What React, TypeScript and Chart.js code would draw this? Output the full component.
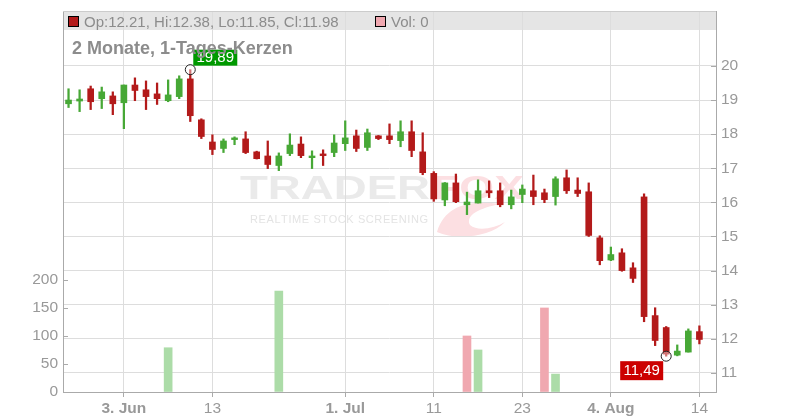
import React, { useEffect, useRef } from 'react';
import { Chart, registerables } from 'chart.js';

Chart.register(...registerables);

const dates = [
  '2024-05-27', '2024-05-28', '2024-05-29', '2024-05-30', '2024-05-31',
  '2024-06-03', '2024-06-04', '2024-06-05', '2024-06-06', '2024-06-07',
  '2024-06-10', '2024-06-11', '2024-06-12', '2024-06-13', '2024-06-14',
  '2024-06-17', '2024-06-18', '2024-06-19', '2024-06-20', '2024-06-21',
  '2024-06-24', '2024-06-25', '2024-06-26', '2024-06-27', '2024-06-28',
  '2024-07-01', '2024-07-02', '2024-07-03', '2024-07-04', '2024-07-05',
  '2024-07-08', '2024-07-09', '2024-07-10', '2024-07-11', '2024-07-12',
  '2024-07-15', '2024-07-16', '2024-07-17', '2024-07-18', '2024-07-19',
  '2024-07-22', '2024-07-23', '2024-07-24', '2024-07-25', '2024-07-26',
  '2024-07-29', '2024-07-30', '2024-07-31', '2024-08-01', '2024-08-02',
  '2024-08-05', '2024-08-06', '2024-08-07', '2024-08-08', '2024-08-09',
  '2024-08-12', '2024-08-13', '2024-08-14',
];

const opens = [
  18.89, 18.97, 19.33, 19.04, 19.12, 18.92, 19.44, 19.30, 19.18, 18.98,
  19.10, 19.62, 18.42, 17.77, 17.58, 17.84, 17.86, 17.48, 17.36, 17.08,
  17.43, 17.71, 17.31, 17.42, 17.46, 17.72, 17.95, 17.61, 17.95, 17.95,
  17.81, 18.07, 17.48, 16.85, 16.07, 16.57, 15.93, 15.98, 16.34, 16.34,
  15.93, 16.23, 16.34, 16.28, 16.17, 16.72, 16.36, 16.31, 14.96, 14.31,
  14.52, 14.08, 16.16, 12.68, 12.33, 11.52, 11.61, 12.21,
];
const highs = [
  19.33, 19.30, 19.41, 19.38, 19.24, 19.44, 19.65, 19.56, 19.50, 19.59,
  19.71, 19.89, 18.45, 17.98, 17.86, 17.92, 18.07, 17.50, 17.80, 17.45,
  18.01, 17.92, 17.51, 17.54, 17.98, 18.39, 18.12, 18.15, 17.96, 18.30,
  18.39, 18.39, 18.04, 16.90, 16.58, 16.83, 16.30, 16.66, 16.63, 16.57,
  16.36, 16.51, 16.80, 16.39, 16.75, 16.95, 16.72, 16.57, 15.02, 14.69,
  14.64, 14.23, 16.25, 12.91, 12.36, 11.82, 12.29, 12.38,
];
const lows = [
  18.78, 18.66, 18.72, 18.75, 18.57, 18.16, 18.98, 18.72, 18.87, 18.95,
  19.04, 18.37, 17.87, 17.40, 17.46, 17.69, 17.43, 17.27, 16.99, 16.93,
  17.37, 17.31, 16.99, 17.08, 17.34, 17.52, 17.49, 17.52, 17.84, 17.72,
  17.63, 17.34, 16.81, 16.03, 15.90, 15.99, 15.64, 15.98, 16.14, 15.87,
  15.81, 15.99, 15.93, 15.99, 15.92, 16.26, 16.17, 15.00, 14.17, 14.29,
  13.98, 13.65, 12.50, 11.80, 11.49, 11.50, 11.61, 11.85,
];
const closes = [
  19.00, 19.03, 18.95, 19.24, 18.89, 19.44, 19.28, 19.10, 19.04, 19.15,
  19.62, 18.54, 17.93, 17.55, 17.80, 17.89, 17.46, 17.28, 17.11, 17.36,
  17.68, 17.37, 17.36, 17.37, 17.74, 17.89, 17.58, 18.04, 17.87, 17.84,
  18.07, 17.52, 16.87, 16.10, 16.57, 16.02, 16.01, 16.34, 16.28, 15.93,
  16.16, 16.39, 16.17, 16.08, 16.69, 16.34, 16.26, 15.03, 14.29, 14.47,
  14.00, 13.77, 12.65, 11.95, 11.55, 11.64, 12.23, 11.98,
];
const volumes = [
  0, 0, 0, 0, 0, 0, 0, 0, 0, 79,
  0, 0, 0, 0, 0, 0, 0, 0, 0, 180,
  0, 0, 0, 0, 0, 0, 0, 0, 0, 0,
  0, 0, 0, 0, 0, 0, 100, 75, 0, 0,
  0, 0, 0, 150, 32, 0, 0, 0, 0, 0,
  0, 0, 0, 0, 0, 0, 0, 0,
];

const tickIdx = [5, 13, 25, 33, 41, 49, 57];
const tickText = ['3. Jun', '13', '1. Jul', '11', '23', '4. Aug', '14'];
const priceTicks = [11, 12, 13, 14, 15, 16, 17, 18, 19, 20];
const volTicks = [0, 50, 100, 150, 200];
const title = '2 Monate, 1-Tages-Kerzen';

const FONT = '"Liberation Sans", Arial, Helvetica, sans-serif';
const UP = '#47a836';
const DOWN = '#b31a1a';
const VOL_UP = '#acdca8';
const VOL_DOWN = '#f0a8b0';

const deFmt = (v: number) => v.toFixed(2).replace('.', ',');

const overlay = {
  id: 'overlay',
  beforeDraw(chart: any) {
    const { ctx, chartArea: a } = chart;
    ctx.save();
    // legend band
    ctx.fillStyle = '#e5e5e5';
    ctx.fillRect(a.left, a.top, a.right - a.left, 19);
    // watermark
    ctx.font = `bold 34px ${FONT}`;
    const w1 = ctx.measureText('TRADER').width;
    ctx.save();
    ctx.translate(240, 199);
    ctx.scale(190 / w1, 1);
    ctx.fillStyle = '#eaeaea';
    ctx.fillText('TRADER', 0, 0);
    ctx.restore();
    const w2 = ctx.measureText('FOX').width;
    ctx.save();
    ctx.translate(432, 199);
    ctx.scale(92 / w2, 1);
    ctx.fillStyle = '#fcdfe2';
    ctx.fillText('FOX', 0, 0);
    ctx.restore();
    // tail swoosh
    ctx.fillStyle = '#fcdfe2';
    ctx.beginPath();
    ctx.moveTo(437, 232);
    ctx.bezierCurveTo(445, 205, 470, 200, 500, 204);
    ctx.bezierCurveTo(480, 208, 465, 215, 470, 225);
    ctx.bezierCurveTo(478, 232, 495, 228, 505, 222);
    ctx.bezierCurveTo(490, 238, 455, 240, 437, 232);
    ctx.fill();
    const sub = 'REALTIME STOCK SCREENING';
    ctx.font = `11px ${FONT}`;
    ctx.fillStyle = '#e4e4e4';
    const ws = ctx.measureText(sub).width;
    const gap = (177 - ws) / (sub.length - 1);
    let sx = 250;
    for (const ch of sub) {
      ctx.fillText(ch, sx, 223);
      sx += ctx.measureText(ch).width + gap;
    }
    ctx.restore();
  },
  afterDraw(chart: any) {
    const { ctx, chartArea: a, scales } = chart;
    const x = scales.x, y = scales.y, yv = scales.yVol;
    ctx.save();
    // top border
    ctx.strokeStyle = '#cccccc';
    ctx.lineWidth = 1;
    ctx.beginPath();
    ctx.moveTo(a.left, a.top + 0.5);
    ctx.lineTo(a.right, a.top + 0.5);
    ctx.stroke();
    // inward tick marks
    ctx.strokeStyle = '#aaaaaa';
    ctx.beginPath();
    for (const t of priceTicks) {
      const py = Math.round(y.getPixelForValue(t)) + 0.5;
      ctx.moveTo(a.right - 5, py);
      ctx.lineTo(a.right, py);
    }
    for (const t of volTicks) {
      const py = Math.round(yv.getPixelForValue(t)) + 0.5;
      ctx.moveTo(a.left, py);
      ctx.lineTo(a.left + 5, py);
    }
    ctx.stroke();

    // high / low markers
    let hi = 0, lo = 0;
    highs.forEach((v, i) => { if (v > highs[hi]) hi = i; });
    lows.forEach((v, i) => { if (v < lows[lo]) lo = i; });
    const hx = x.getPixelForValue(hi), hy = y.getPixelForValue(highs[hi]);
    const lx = x.getPixelForValue(lo), ly = y.getPixelForValue(lows[lo]);
    ctx.font = `15px ${FONT}`;
    ctx.textBaseline = 'middle';
    ctx.textAlign = 'center';
    ctx.fillStyle = '#009900';
    ctx.fillRect(hx + 3, hy - 20, 44, 16);
    ctx.fillStyle = '#ffffff';
    ctx.fillText(deFmt(highs[hi]), hx + 25, hy - 11.5);
    ctx.fillStyle = '#cc0000';
    ctx.fillRect(lx - 46, ly + 5, 43, 19);
    ctx.fillStyle = '#ffffff';
    ctx.fillText(deFmt(lows[lo]), lx - 24.5, ly + 15);
    ctx.strokeStyle = '#222';
    ctx.lineWidth = 1;
    for (const [cx, cy] of [[hx, hy], [lx, ly]]) {
      ctx.beginPath();
      ctx.arc(cx, cy, 5, 0, Math.PI * 2);
      ctx.fillStyle = 'rgba(255,255,255,0.4)';
      ctx.fill();
      ctx.stroke();
    }

    // legend content
    const n = closes.length - 1;
    ctx.textAlign = 'left';
    ctx.textBaseline = 'alphabetic';
    ctx.fillStyle = DOWN;
    ctx.fillRect(68.5, 16.5, 10, 10);
    ctx.strokeStyle = '#000';
    ctx.strokeRect(68.5, 16.5, 10, 10);
    ctx.fillStyle = '#8c8c8c';
    ctx.font = `15px ${FONT}`;
    ctx.fillText(
      `Op:${opens[n].toFixed(2)}, Hi:${highs[n].toFixed(2)}, Lo:${lows[n].toFixed(2)}, Cl:${closes[n].toFixed(2)}`,
      84, 27
    );
    ctx.fillStyle = VOL_DOWN;
    ctx.fillRect(375.5, 16.5, 10, 10);
    ctx.strokeRect(375.5, 16.5, 10, 10);
    ctx.fillStyle = '#8c8c8c';
    ctx.fillText(`Vol: ${volumes[n]}`, 391, 27);

    // title
    ctx.font = `bold 18px ${FONT}`;
    ctx.fillStyle = '#8c8c8c';
    ctx.fillText(title, 72, 54);
    ctx.restore();
  },
};

const noPad = (s: any) => {
  s.paddingTop = 0;
  s.paddingBottom = 0;
  s.paddingLeft = 0;
  s.paddingRight = 0;
};

export default function App() {
  const ref = useRef<HTMLCanvasElement>(null);
  useEffect(() => {
    document.body.style.margin = '0';
    const isUp = (i: number) => closes[i] >= opens[i];
    const volUp = (i: number) => i === 0 || closes[i] >= closes[i - 1];
    const chart = new Chart(ref.current as HTMLCanvasElement, {
      type: 'bar',
      data: {
        datasets: [
          {
            label: 'Kerze',
            data: opens.map((o, i) => ({ x: i, y: [o, closes[i]] })) as any,
            backgroundColor: opens.map((_, i) => (isUp(i) ? UP : DOWN)),
            barThickness: 6,
            minBarLength: 1.5,
            grouped: false,
            order: 1,
            xAxisID: 'x',
            yAxisID: 'y',
          },
          {
            label: 'Docht',
            data: lows.map((l, i) => ({ x: i, y: [l, highs[i]] })) as any,
            backgroundColor: opens.map((_, i) => (isUp(i) ? UP : DOWN)),
            barThickness: 1.6,
            grouped: false,
            order: 2,
            xAxisID: 'x',
            yAxisID: 'y',
          },
          {
            label: 'Vol',
            data: volumes.map((v, i) => ({ x: i, y: v > 0 ? v : null })) as any,
            backgroundColor: volumes.map((_, i) => (volUp(i) ? VOL_UP : VOL_DOWN)),
            barThickness: 8,
            grouped: false,
            skipNull: true,
            order: 3,
            xAxisID: 'x',
            yAxisID: 'yVol',
          },
        ],
      },
      options: {
        responsive: false,
        animation: false,
        events: [],
        layout: { padding: { top: 11, left: 0, right: 0, bottom: 0 } },
        plugins: { legend: { display: false }, tooltip: { enabled: false } },
        scales: {
          x: {
            type: 'linear',
            position: 'bottom',
            min: -0.5,
            max: 58.5,
            offset: false,
            afterBuildTicks: (s: any) => { s.ticks = tickIdx.map((v) => ({ value: v })); },
            afterFit: (s: any) => { s.height = 28; noPad(s); },
            grid: { color: '#dddddd', tickColor: '#aaaaaa', tickLength: 5, offset: false },
            border: { color: '#aaaaaa' },
            ticks: {
              autoSkip: false,
              maxRotation: 0,
              padding: 2,
              color: '#999999',
              callback: (v: any) => tickText[tickIdx.indexOf(Number(v))] ?? '',
              font: (c: any) => ({
                family: FONT,
                size: 15.5,
                weight: c.tick && (tickText[tickIdx.indexOf(c.tick.value)] || '').includes('.') ? 'bold' : 'normal',
              }),
            },
          },
          y: {
            type: 'linear',
            position: 'right',
            min: 10.44,
            max: 21.61,
            afterBuildTicks: (s: any) => { s.ticks = priceTicks.map((v) => ({ value: v })); },
            afterFit: (s: any) => { s.width = 84; noPad(s); },
            grid: { color: '#dddddd', drawTicks: false },
            border: { color: '#aaaaaa' },
            ticks: { padding: 5, color: '#999999', font: { family: FONT, size: 15.5 } },
          },
          yVol: {
            type: 'linear',
            position: 'left',
            min: 0,
            max: 680,
            afterBuildTicks: (s: any) => { s.ticks = volTicks.map((v) => ({ value: v })); },
            afterFit: (s: any) => { s.width = 63; noPad(s); },
            grid: { drawOnChartArea: false, drawTicks: false },
            border: { color: '#aaaaaa' },
            ticks: { padding: 5, color: '#999999', font: { family: FONT, size: 15.5 } },
          },
        },
      } as any,
      plugins: [overlay],
    });
    return () => chart.destroy();
  }, []);
  return (
    <div style={{ width: 800, height: 420 }}>
      <canvas ref={ref} width={800} height={420} />
    </div>
  );
}
